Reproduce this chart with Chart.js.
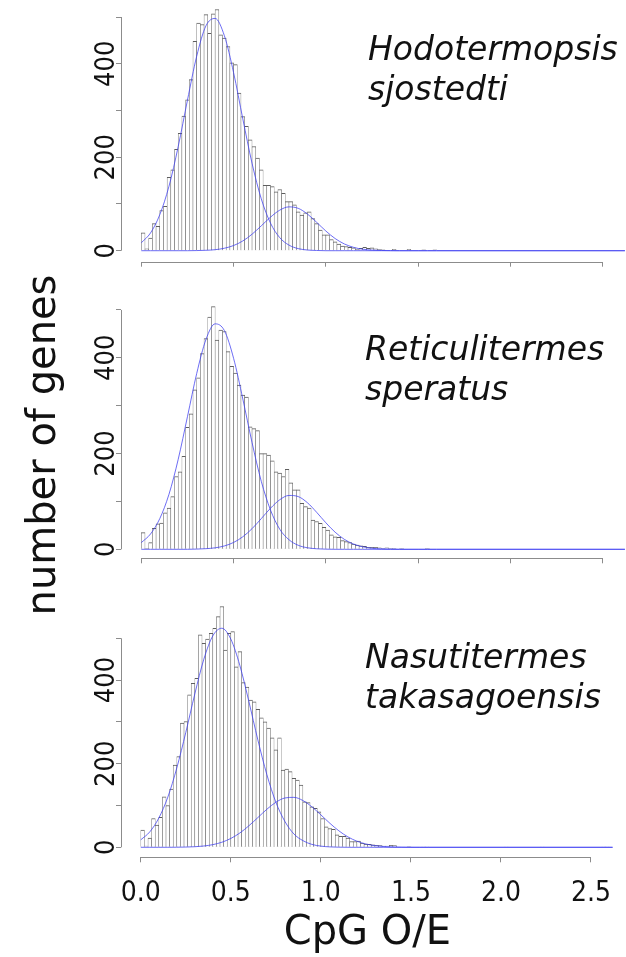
<!DOCTYPE html>
<html>
<head>
<meta charset="utf-8">
<script src="https://cdn.jsdelivr.net/npm/chart.js@4.4.1/dist/chart.umd.min.js"></script>
<style>
  html, body { margin: 0; padding: 0; background: #fff; }
  #page { position: relative; width: 626px; height: 957px; overflow: hidden; }
  canvas { position: absolute; left: 0; }
  #ylab {
    position: absolute; left: 41px; top: 445px;
    width: 420px; height: 40px; margin-left: -210px; margin-top: -20px;
    font-family: "DejaVu Sans"; font-size: 40px; line-height: 40px;
    text-align: center; white-space: nowrap; color: #111;
    transform: rotate(-90deg);
  }
</style>
</head>
<body>
<div id="page">
  <canvas id="p1" width="626" height="300" style="top:0"></canvas>
  <canvas id="p2" width="626" height="300" style="top:300px"></canvas>
  <canvas id="p3" width="626" height="357" style="top:600px"></canvas>
  <div id="ylab">number of genes</div>
</div>
<script>
// histogram bins (width 0.02), centres
const binCentres = [
  0.01, 0.03, 0.05, 0.07, 0.09, 0.11, 0.13, 0.15, 0.17, 0.19,
  0.21, 0.23, 0.25, 0.27, 0.29, 0.31, 0.33, 0.35, 0.37, 0.39,
  0.41, 0.43, 0.45, 0.47, 0.49, 0.51, 0.53, 0.55, 0.57, 0.59,
  0.61, 0.63, 0.65, 0.67, 0.69, 0.71, 0.73, 0.75, 0.77, 0.79,
  0.81, 0.83, 0.85, 0.87, 0.89, 0.91, 0.93, 0.95, 0.97, 0.99,
  1.01, 1.03, 1.05, 1.07, 1.09, 1.11, 1.13, 1.15, 1.17, 1.19,
  1.21, 1.23, 1.25, 1.27, 1.29, 1.31, 1.33, 1.35, 1.37, 1.39,
  1.41, 1.43, 1.45, 1.47, 1.49, 1.51, 1.53, 1.55, 1.57, 1.59,
  1.61, 1.63, 1.65, 1.67, 1.69, 1.71, 1.73, 1.75, 1.77, 1.79,
  1.81, 1.83, 1.85, 1.87, 1.89, 1.91, 1.93, 1.95, 1.97, 1.99,
  2.01, 2.03, 2.05, 2.07, 2.09, 2.11, 2.13, 2.15, 2.17, 2.19,
  2.21, 2.23, 2.25, 2.27, 2.29, 2.31, 2.33, 2.35, 2.37, 2.39,
  2.41, 2.43, 2.45, 2.47, 2.49, 2.51, 2.53, 2.55, 2.57, 2.59
];

const hodoCounts = [
  38, 4, 27, 58, 52, 86, 95, 157, 173, 217,
  251, 288, 323, 366, 448, 487, 484, 505, 465, 507,
  516, 462, 455, 437, 402, 398, 337, 287, 266, 237,
  223, 198, 173, 140, 140, 137, 126, 131, 123, 105,
  105, 98, 83, 76, 81, 83, 69, 58, 44, 34,
  34, 24, 19, 14, 10, 9, 7, 6, 3, 5,
  7, 5, 6, 4, 3, 2, 1, 0, 3, 0,
  0, 0, 3, 0, 0, 0, 2, 0, 0, 2
];
const retiCounts = [
  35, 2, 14, 44, 53, 55, 76, 86, 110, 152,
  162, 194, 255, 283, 333, 358, 409, 440, 485, 507,
  437, 458, 455, 413, 382, 368, 343, 322, 318, 256,
  252, 248, 200, 200, 197, 185, 162, 159, 152, 167,
  139, 124, 124, 96, 89, 86, 61, 58, 54, 46,
  40, 30, 26, 25, 18, 16, 14, 11, 9, 7,
  6, 4, 4, 4, 3, 2, 3, 2, 2, 1,
  2, 0, 1, 0, 0, 0, 0, 2
];
const nasuCounts = [
  41, 3, 22, 69, 53, 72, 121, 100, 139, 197,
  217, 297, 301, 365, 392, 404, 508, 488, 498, 512,
  524, 552, 576, 472, 512, 516, 432, 468, 394, 383,
  352, 348, 330, 310, 300, 285, 262, 233, 262, 185,
  187, 181, 165, 161, 149, 109, 107, 97, 93, 85,
  69, 49, 45, 43, 30, 26, 26, 22, 14, 14,
  15, 10, 8, 7, 6, 5, 4, 3, 3, 5,
  4, 0, 0, 0, 2, 0, 0, 0, 1, 1,
  0, 0, 0, 0, 0, 0, 0, 0, 0, 0,
  0, 0, 0, 0, 0, 0, 0, 0, 0, 0,
  0, 1, 0, 0, 0, 0, 0, 0, 0, 0,
  0, 1, 0, 0, 0, 0, 0, 0, 0, 0,
  0, 0, 0, 0, 0, 0, 0, 0, 1, 1
];

// fitted mixture components
const curveX = [
  0, 0.05, 0.10, 0.15, 0.20, 0.25, 0.30, 0.35, 0.40, 0.45, 0.50, 0.55,
  0.60, 0.65, 0.70, 0.75, 0.80, 0.85, 0.90, 0.95, 1.00, 1.05, 1.10, 1.15,
  1.20, 1.25, 1.30, 1.35, 1.40, 1.45, 1.50, 1.55, 1.60, 2.62
];
const hodoFitLow = [17, 38, 77, 138, 223, 322, 416, 481, 497, 460, 381, 282,
  187, 111, 59, 28, 12, 4.5, 1.5, 0.5, 0, 0, 0, 0, 0, 0, 0, 0, 0, 0, 0, 0, 0, 0];
const hodoFitHigh = [0, 0, 0, 0, 0, 0, 0.3, 0.9, 2.2, 5.3, 11.1, 20.9,
  35.3, 53.2, 71.8, 86.8, 93.8, 90.7, 78.5, 60.8, 42.1, 26.1, 14.5, 7.2,
  3.2, 1.3, 0.5, 0.2, 0, 0, 0, 0, 0, 0];
const retiFitLow = [14, 32, 64, 115, 188, 277, 367, 438, 471, 457, 399, 314,
  223, 142, 82, 42, 20, 8.4, 3.2, 1.1, 0.3, 0, 0, 0, 0, 0, 0, 0, 0, 0, 0, 0, 0, 0];
const retiFitHigh = [0, 0, 0, 0, 0, 0, 0.45, 1.3, 3.1, 7.0, 14.3, 26.2,
  43.1, 64.1, 85.8, 103.5, 112.5, 110.2, 97.3, 77.3, 55.4, 35.8, 20.8, 10.9,
  5.2, 2.2, 0.8, 0.3, 0, 0, 0, 0, 0, 0];
const nasuFitLow = [18, 37, 70, 120, 190, 275, 367, 450, 506, 524, 498, 435,
  349, 257, 174, 108, 62, 32, 16, 7, 2.8, 1, 0.3, 0, 0, 0, 0, 0, 0, 0, 0, 0, 0, 0];
const nasuFitHigh = [0, 0, 0, 0, 0.2, 0.6, 1.4, 3.1, 6.4, 12.1, 21.2, 34.3,
  51.4, 71.1, 91.0, 107.7, 118, 119.5, 111.9, 96.9, 77.6, 57.5, 39.4, 25.0,
  14.6, 7.9, 4.0, 1.8, 0.8, 0.3, 0.1, 0, 0, 0];

const xTicks = [0, 0.5, 1, 1.5, 2, 2.5];
const yTicks = [0, 100, 200, 300, 400, 500];
const yLabelled = [0, 200, 400];

const grey = "#8c8c8c";
const blue = "rgba(60, 60, 240, 0.75)";
const tickFamily = '"DejaVu Sans Condensed", "Liberation Sans", sans-serif';

// R-style axes: lines only between the first and last tick, rotated y labels, species name
const rAxes = {
  id: "rAxes",
  afterDraw(chart, args, opts) {
    const { ctx, chartArea, scales } = chart;
    const x = scales.x, y = scales.y;
    ctx.save();
    ctx.strokeStyle = grey;
    ctx.lineWidth = 1;
    ctx.beginPath();
    const yb = Math.round(chartArea.bottom) + 0.5;
    ctx.moveTo(x.getPixelForValue(xTicks[0]), yb);
    ctx.lineTo(x.getPixelForValue(xTicks[xTicks.length - 1]), yb);
    const xl = Math.round(chartArea.left) + 0.5;
    ctx.moveTo(xl, y.getPixelForValue(yTicks[0]));
    ctx.lineTo(xl, y.getPixelForValue(yTicks[yTicks.length - 1]));
    ctx.stroke();

    ctx.fillStyle = "#111";
    ctx.font = "27px " + tickFamily;
    ctx.textAlign = "center";
    ctx.textBaseline = "alphabetic";
    yLabelled.forEach((v) => {
      ctx.save();
      ctx.translate(chartArea.left - 7, y.getPixelForValue(v));
      ctx.rotate(-Math.PI / 2);
      ctx.fillText(String(v), 0, 0);
      ctx.restore();
    });

    ctx.font = 'italic 33px "DejaVu Sans"';
    ctx.textAlign = "left";
    opts.names.forEach((t, i) => ctx.fillText(t, opts.nameX, opts.nameY + i * 40));
    ctx.restore();
  },
};

function panel(id, counts, fitLow, fitHigh, yMin, yMax, axisH, names, nameX, nameY, last) {
  return new Chart(document.getElementById(id), {
    type: "bar",
    data: {
      datasets: [
        {
          type: "line",
          data: curveX.map((v, i) => ({ x: v, y: fitLow[i] })),
          borderColor: blue,
          borderWidth: 1,
          pointRadius: 0,
          cubicInterpolationMode: "monotone",
          order: 1,
        },
        {
          type: "line",
          data: curveX.map((v, i) => ({ x: v, y: fitHigh[i] })),
          borderColor: blue,
          borderWidth: 1,
          pointRadius: 0,
          cubicInterpolationMode: "monotone",
          order: 1,
        },
        {
          type: "bar",
          data: counts.map((c, i) => ({ x: binCentres[i], y: c })),
          backgroundColor: "#fff",
          borderColor: "#5e5e5e",
          borderWidth: { top: 1, left: 0.55, right: 0.55, bottom: 0 },
          barPercentage: 1,
          categoryPercentage: 1,
          order: 2,
        },
      ],
    },
    options: {
      responsive: false,
      animation: false,
      events: [],
      layout: { padding: 0 },
      plugins: {
        legend: { display: false },
        tooltip: { enabled: false },
        rAxes: { names: names, nameX: nameX, nameY: nameY },
      },
      scales: {
        x: {
          type: "linear",
          min: -0.11,
          max: 2.626,
          offset: false,
          grid: { offset: false, drawOnChartArea: false, tickLength: 5, color: grey },
          border: { display: false },
          afterBuildTicks: (s) => { s.ticks = xTicks.map((v) => ({ value: v })); },
          afterFit: (s) => { s.height = axisH; },
          ticks: {
            display: last,
            autoSkip: false,
            maxRotation: 0,
            padding: 15,
            color: "#111",
            font: { family: tickFamily, size: 28 },
            callback: (v) => Number(v).toFixed(1),
          },
          title: {
            display: last,
            text: "CpG O/E",
            color: "#111",
            font: { family: "DejaVu Sans", size: 40, lineHeight: 1 },
            padding: { top: 0, bottom: 3 },
          },
        },
        y: {
          type: "linear",
          min: yMin,
          max: yMax,
          grid: { drawOnChartArea: false, tickLength: 5, color: grey },
          border: { display: false },
          afterBuildTicks: (s) => { s.ticks = yTicks.map((v) => ({ value: v })); },
          afterFit: (s) => { s.width = 121; },
          ticks: { display: false },
        },
      },
    },
    plugins: [rAxes],
  });
}

panel("p1", hodoCounts, hodoFitLow, hodoFitHigh, -23.5, 536.4, 38.3,
  ["Hodotermopsis", "sjostedti"], 368, 60, false);
panel("p2", retiCounts, retiFitLow, retiFitHigh, -18.8, 520.8, 41.7,
  ["Reticulitermes", "speratus"], 365, 60, false);
panel("p3", nasuCounts, nasuFitLow, nasuFitHigh, -23.9, 591.6, 99.7,
  ["Nasutitermes", "takasagoensis"], 365, 68, true);
</script>
</body>
</html>
